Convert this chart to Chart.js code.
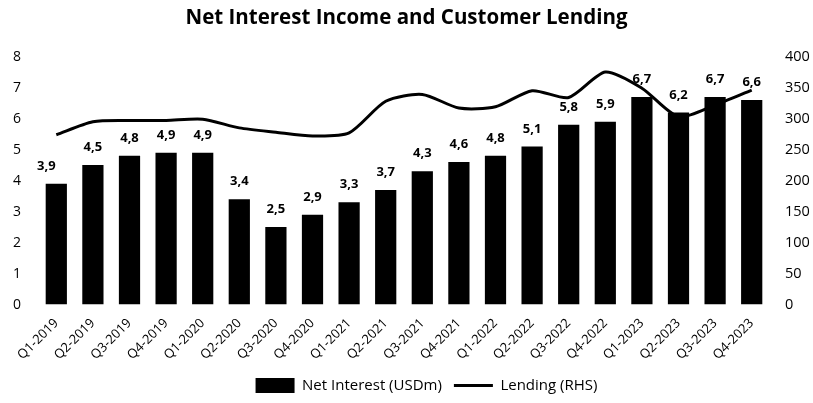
<!DOCTYPE html>
<html>
<head>
<meta charset="utf-8">
<script src="https://cdn.jsdelivr.net/npm/chart.js@4/dist/chart.umd.min.js"></script>
<style>
  html, body { margin: 0; padding: 0; background: #fff; }
  #wrap { width: 813px; height: 403px; }
</style>
</head>
<body>
<div id="wrap"><canvas id="nimChart"></canvas></div>
<script>
const quarters = ['Q1-2019', 'Q2-2019', 'Q3-2019', 'Q4-2019', 'Q1-2020', 'Q2-2020', 'Q3-2020', 'Q4-2020',
  'Q1-2021', 'Q2-2021', 'Q3-2021', 'Q4-2021', 'Q1-2022', 'Q2-2022', 'Q3-2022', 'Q4-2022',
  'Q1-2023', 'Q2-2023', 'Q3-2023', 'Q4-2023'];
const netInterest = [3.9, 4.5, 4.8, 4.9, 4.9, 3.4, 2.5, 2.9, 3.3, 3.7, 4.3, 4.6, 4.8, 5.1, 5.8, 5.9, 6.7, 6.2, 6.7, 6.6];
const lending = [274, 295, 297, 297, 299, 285, 278, 272, 277, 328, 339, 317, 319, 345, 334, 375, 349, 303, 322, 346];

// value labels over the bars (comma decimal), drawn before the line so the line sits on top
const barLabels = {
  id: 'barLabels',
  afterDatasetDraw(chart, args) {
    if (args.index !== 1) return;
    const ctx = chart.ctx;
    ctx.save();
    ctx.font = 'bold 13px "Open Sans", sans-serif';
    ctx.fillStyle = '#000';
    ctx.textAlign = 'center';
    ctx.textBaseline = 'bottom';
    args.meta.data.forEach((bar, i) => {
      const x = i === 0 ? bar.x - 10 : bar.x;  // first label sits a bit left in the original
      ctx.fillText(netInterest[i].toFixed(1).replace('.', ','), x, bar.y - 11);
    });
    ctx.restore();
  }
};

// legend in the original is a little right of centre
const legendShift = {
  id: 'legendShift',
  afterLayout(chart) {
    chart.legend.left += 20;
    chart.legend.right += 20;
  }
};

const ctx = document.getElementById('nimChart').getContext('2d');
const nimChart = new Chart(ctx, {
  data: {
    labels: quarters,
    datasets: [{
      type: 'line',
      label: 'Lending (RHS)',
      data: lending,
      yAxisID: 'y1',
      borderColor: '#000',
      backgroundColor: '#000',
      borderWidth: 3,
      pointRadius: 0,
      tension: 0.25,
      order: 0
    }, {
      type: 'bar',
      label: 'Net Interest (USDm)',
      data: netInterest,
      yAxisID: 'y',
      backgroundColor: '#000',
      categoryPercentage: 1,
      barPercentage: 0.58,
      order: 1
    }]
  },
  options: {
    responsive: true,
    maintainAspectRatio: false,
    animation: false,
    layout: { padding: { left: 0, right: 0, top: 0, bottom: 0 } },
    plugins: {
      title: {
        display: true,
        text: 'Net Interest Income and Customer Lending',
        color: '#000',
        font: { family: '"Open Sans", sans-serif', size: 20.5, weight: 'bold' },
        padding: { top: 6, bottom: 26 }
      },
      legend: {
        position: 'bottom',
        reverse: true,
        labels: {
          color: '#000',
          font: { family: '"Open Sans", sans-serif', size: 15 },
          usePointStyle: true,
          pointStyleWidth: 39,
          boxHeight: 15,
          padding: 12,
          generateLabels(chart) {
            const items = Chart.defaults.plugins.legend.labels.generateLabels(chart);
            items.forEach(it => {
              it.pointStyle = it.datasetIndex === 0 ? 'line' : 'rect';
              if (it.datasetIndex === 0) it.lineWidth = 3;
            });
            return items;
          }
        }
      },
      tooltip: { enabled: false }
    },
    scales: {
      x: {
        grid: { display: false },
        border: { display: false },
        ticks: {
          color: '#000',
          font: { family: '"Open Sans", sans-serif', size: 13 },
          maxRotation: 45,
          minRotation: 45,
          autoSkip: false
        }
      },
      y: {
        position: 'left',
        min: 0,
        max: 8,
        grid: { display: false, drawTicks: false },
        border: { display: false },
        afterFit(scale) { scale.width = 38; },
        ticks: {
          stepSize: 1,
          color: '#000',
          padding: 17,
          font: { family: '"Open Sans", sans-serif', size: 14 }
        }
      },
      y1: {
        position: 'right',
        min: 0,
        max: 400,
        grid: { display: false, drawTicks: false },
        border: { display: false },
        afterFit(scale) { scale.width = 43; },
        ticks: {
          stepSize: 50,
          color: '#000',
          padding: 15,
          font: { family: '"Open Sans", sans-serif', size: 14.5 }
        }
      }
    }
  },
  plugins: [barLabels, legendShift]
});
</script>
</body>
</html>
